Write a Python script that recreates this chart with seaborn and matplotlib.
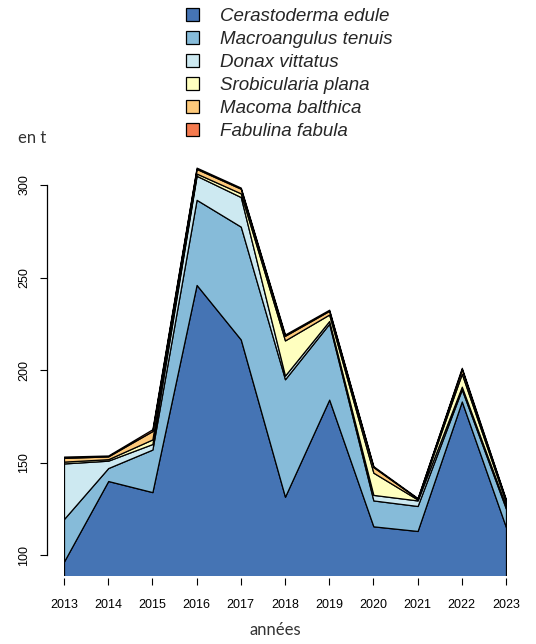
import matplotlib
matplotlib.use("Agg")
import matplotlib.pyplot as plt
import seaborn as sns
import numpy as np
import pandas as pd
from matplotlib.patches import Patch

years = [2013, 2014, 2015, 2016, 2017, 2018, 2019, 2020, 2021, 2022, 2023]
species = ["Cerastoderma edule", "Macroangulus tenuis", "Donax vittatus",
           "Srobicularia plana", "Macoma balthica", "Fabulina fabula"]
cerastoderma = [96.5, 140.0, 134.0, 246.0, 216.5, 131.5, 184.0, 115.5, 113.0, 183.0, 115.0]
macroangulus = [23.0, 7.0, 23.0, 46.0, 61.0, 63.5, 41.0, 14.0, 13.5, 6.5, 10.0]
donax = [30.0, 4.0, 3.0, 13.0, 16.0, 2.0, 1.5, 3.0, 3.0, 1.5, 1.5]
srobicularia = [1.0, 0.8, 2.5, 1.2, 2.0, 19.0, 3.5, 12.0, 0.5, 7.0, 2.0]
macoma = [2.0, 1.5, 4.5, 2.5, 2.5, 2.5, 2.0, 3.0, 0.5, 2.5, 1.0]
fabulina = [0.7, 0.5, 1.0, 0.7, 0.6, 0.7, 0.6, 0.5, 0.3, 0.7, 0.5]
colors = ["#4574B4", "#86BBD9", "#CDE9F1", "#FFFFBF", "#FDC97A", "#F47A4E"]

df = pd.DataFrame({"year": years, species[0]: cerastoderma, species[1]: macroangulus,
                   species[2]: donax, species[3]: srobicularia, species[4]: macoma,
                   species[5]: fabulina})

sns.set_theme(style="white")
plt.rcParams["font.family"] = ["Liberation Sans", "DejaVu Sans"]

fig = plt.figure(figsize=(5.36, 6.44), dpi=100)
ax = fig.add_axes([64/536, 1-575/644, (506-64)/536, (575-163)/644])

ax.stackplot(df["year"], *[df[s] for s in species], colors=colors,
             edgecolor="black", linewidth=0.9)

ax.set_xlim(2013, 2023)
ax.set_ylim(89.2, 311.9)
ax.set_xticks(years)
ax.set_yticks([100, 150, 200, 250, 300])

for s in ["top", "right"]:
    ax.spines[s].set_visible(False)
ax.spines["left"].set_position(("outward", 12.2))
ax.spines["left"].set_bounds(100, 300)
ax.spines["left"].set_color("black")
ax.spines["left"].set_linewidth(0.9)
ax.spines["bottom"].set_position(("outward", 2.2))
ax.spines["bottom"].set_color("none")

ax.tick_params(axis="both", which="major", direction="out", length=5, width=0.8,
               color="black", labelsize=9, labelcolor="black", bottom=True, left=True)
ax.tick_params(axis="x", pad=10)
ax.tick_params(axis="y", pad=7)
for lab in ax.get_yticklabels():
    lab.set_rotation(90)
    lab.set_va("center")

fig.text(18/536, 1-138/644, "en t", ha="left", va="center", fontsize=12,
         color="#333333", family=["Lato", "DejaVu Sans"])
fig.text(275/536, 1-630/644, "années", ha="center", va="center", fontsize=12,
         color="#333333", family=["Lato", "DejaVu Sans"])

handles = [Patch(facecolor=c, edgecolor="black", linewidth=0.9) for c in colors]
fig.legend(handles, species, loc="upper left", bbox_to_anchor=(186/536, 1-8/644),
           frameon=False, handlelength=0.7, handleheight=0.7, handletextpad=1.1,
           labelspacing=0.31, borderaxespad=0, borderpad=0,
           prop={"style": "italic", "size": 13.5, "family": "Liberation Sans"})

fig.savefig("out.png", dpi=100)
